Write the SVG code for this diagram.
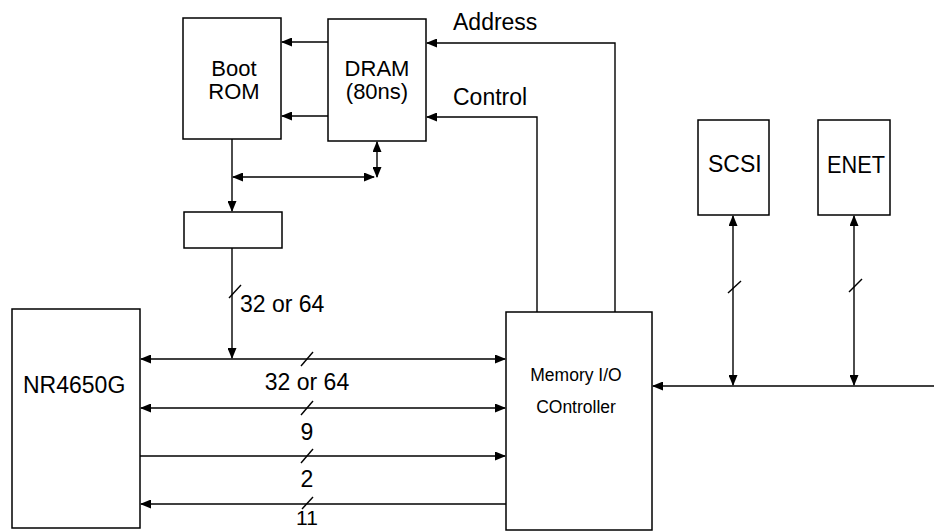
<svg xmlns="http://www.w3.org/2000/svg" width="934" height="531" viewBox="0 0 934 531">
<style>
.box{fill:#fff;stroke:#000;stroke-width:1.5}
.ln{fill:none;stroke:#000;stroke-width:1.4}
.arr{marker-end:url(#ah)}
.dbl{marker-start:url(#ah);marker-end:url(#ah)}
.t{font-family:"Liberation Sans",Arial,sans-serif;font-size:23px;fill:#000}
.s{font-size:17.5px}
.b{font-size:22px}
.m{text-anchor:middle}
</style>
<defs>
<marker id="ah" markerUnits="userSpaceOnUse" markerWidth="11" markerHeight="9" refX="10" refY="4.5" orient="auto-start-reverse" viewBox="0 0 11 9">
<path d="M0,0 L11,4.5 L0,9 z" fill="#000"/>
</marker>
</defs>
<rect width="934" height="531" fill="#fff"/>
<g id="connectors">
<line class="ln arr" x1="328" y1="42" x2="282" y2="42"/>
<line class="ln arr" x1="328" y1="116" x2="282" y2="116"/>
<polyline class="ln arr" points="615,312 615,43 427,43"/>
<polyline class="ln arr" points="537,312 537,117 427,117"/>
<line class="ln arr" x1="232" y1="139" x2="232" y2="211"/>
<line class="ln dbl" x1="233" y1="177" x2="374" y2="177"/>
<line class="ln dbl" x1="377" y1="142" x2="377" y2="177"/>
<line class="ln arr" x1="232" y1="248" x2="232" y2="358"/>
<line class="ln" x1="229" y1="298" x2="241" y2="285"/>
<line class="ln dbl" x1="141" y1="359" x2="505" y2="359"/>
<line class="ln dbl" x1="141" y1="408" x2="505" y2="408"/>
<line class="ln arr" x1="140" y1="456" x2="505" y2="456"/>
<line class="ln arr" x1="506" y1="504" x2="141" y2="504"/>
<line class="ln" x1="301" y1="366" x2="313" y2="352"/>
<line class="ln" x1="301" y1="415" x2="313" y2="401"/>
<line class="ln" x1="301" y1="463" x2="313" y2="449"/>
<line class="ln" x1="302" y1="509" x2="313" y2="497"/>
<line class="ln arr" x1="934" y1="386" x2="653" y2="386"/>
<line class="ln dbl" x1="733" y1="216" x2="733" y2="385"/>
<line class="ln dbl" x1="854" y1="216" x2="854" y2="385"/>
<line class="ln" x1="728" y1="293" x2="741" y2="281"/>
<line class="ln" x1="849" y1="292" x2="862" y2="279"/>
</g>
<g id="bootrom">
<rect class="box" x="183" y="18" width="98" height="121"/>
<text class="t b m" x="234" y="76">Boot</text>
<text class="t b m" x="234" y="99">ROM</text>
</g>
<g id="dram">
<rect class="box" x="328" y="19" width="98" height="122"/>
<text class="t b m" x="377" y="76">DRAM</text>
<text class="t b m" x="377" y="99">(80ns)</text>
</g>
<g id="buffer">
<rect class="box" x="184" y="212" width="98" height="36"/>
</g>
<g id="nr4650g">
<rect class="box" x="12" y="309" width="128" height="219"/>
<text class="t" x="23" y="393">NR4650G</text>
</g>
<g id="controller">
<rect class="box" x="506" y="312" width="146" height="218"/>
<text class="t s m" x="576" y="381">Memory I/O</text>
<text class="t s m" x="576" y="413">COntroller</text>
</g>
<g id="scsi">
<rect class="box" x="698" y="120" width="71" height="95"/>
<text class="t" x="708" y="172">SCSI</text>
</g>
<g id="enet">
<rect class="box" x="818" y="120" width="72" height="95"/>
<text class="t" x="827" y="173" textLength="58" lengthAdjust="spacingAndGlyphs">ENET</text>
</g>
<g id="labels">
<text class="t" x="453" y="30">Address</text>
<text class="t" x="453" y="105">Control</text>
<text class="t" x="240" y="312">32 or 64</text>
<text class="t m" x="307" y="390">32 or 64</text>
<text class="t m" x="307" y="440">9</text>
<text class="t m" x="307" y="487">2</text>
<text class="t m" x="307" y="525" style="font-size:21px">11</text>
</g>
</svg>
